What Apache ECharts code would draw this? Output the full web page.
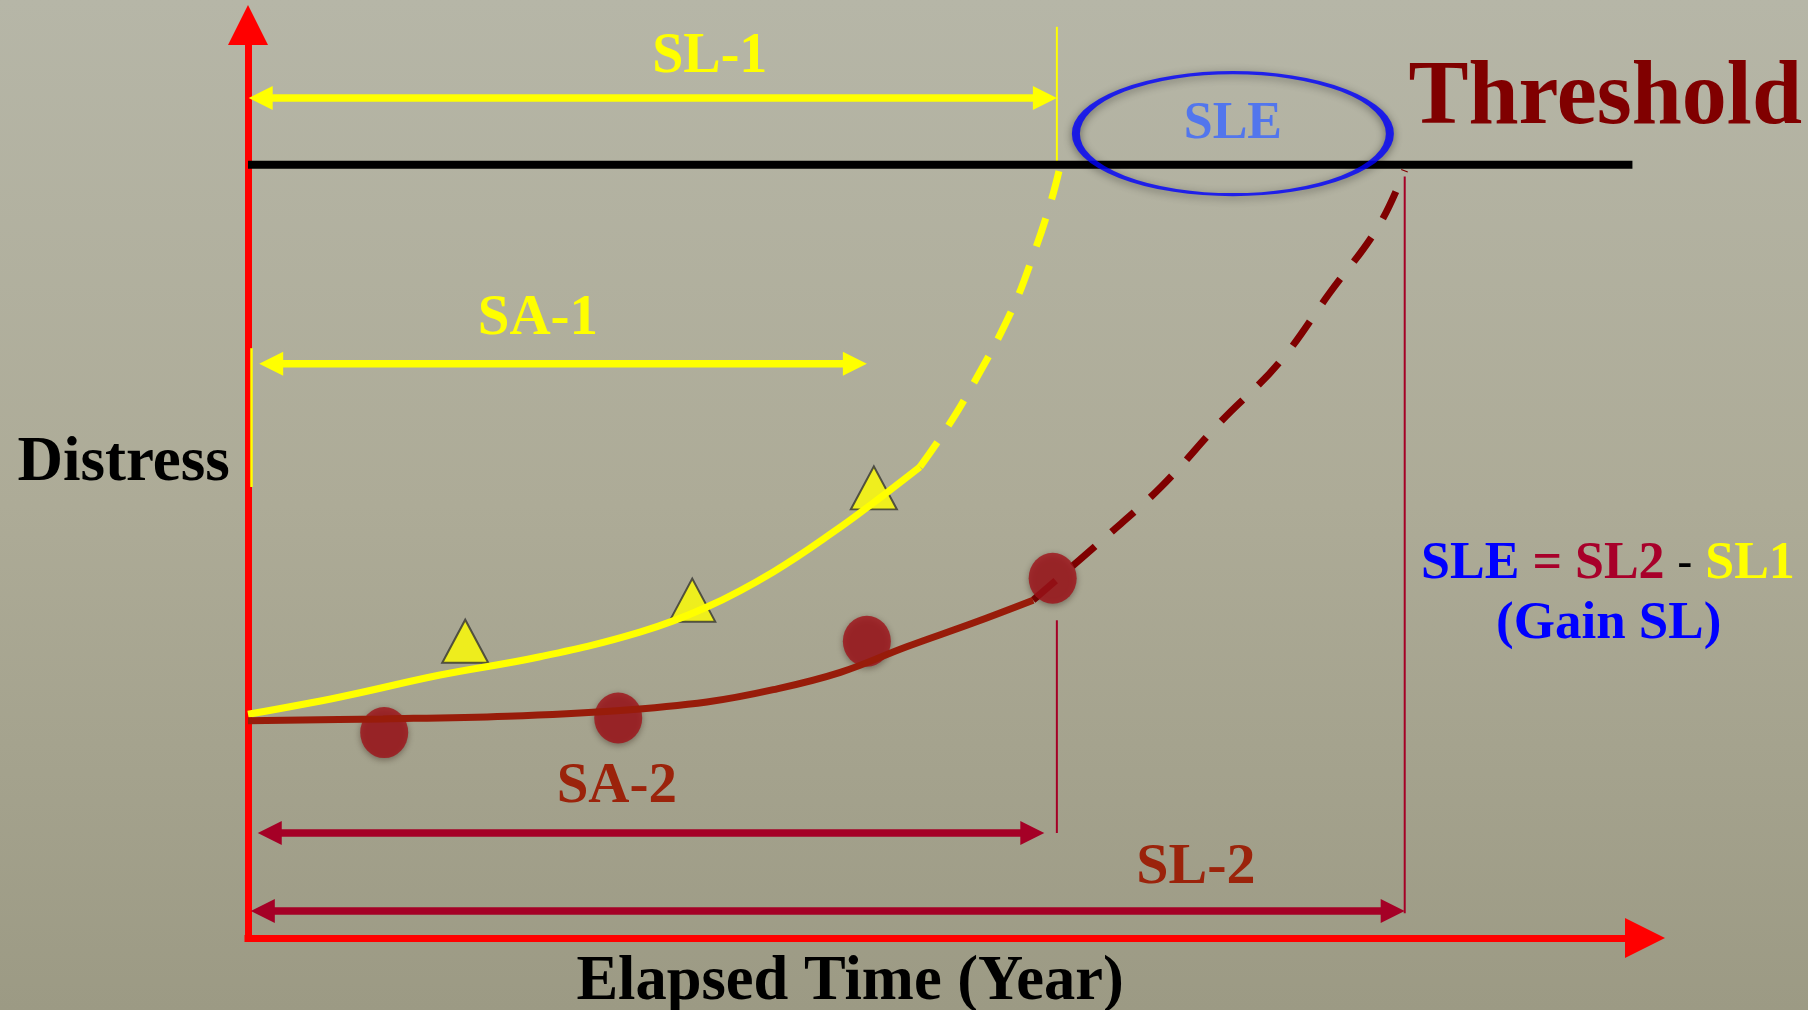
<!DOCTYPE html>
<html>
<head>
<meta charset="utf-8">
<script src="https://cdn.jsdelivr.net/npm/echarts@6/dist/echarts.min.js"></script>
<style>
  html, body { margin: 0; padding: 0; width: 1808px; height: 1010px; overflow: hidden; }
  #chart { width: 1808px; height: 1010px; }
</style>
</head>
<body>
<div id="chart"></div>
<script>
// Distress growth over elapsed time for two sections, with survey ages,
// service lives to the threshold and the gained service life (SLE).
const AGE_MAX = 20;
const DISTRESS_MAX = 100;
const THRESHOLD = 84.7;
const THRESHOLD_END = 19.82;

// Section 1 (yellow): fitted trend over the surveyed period, then projected
const trend1Measured = [[0, 24.5], [1.32, 26.4], [2.75, 28.8], [4.18, 30.8], [5.61, 33.5], [6.57, 36.25], [7.52, 40.1], [8.48, 45.0], [8.95, 47.65], [9.62, 51.6]];
const trend1Projected = [[9.62, 51.6], [9.94, 55.1], [10.31, 59.7], [10.92, 68.5], [11.27, 75.4], [11.50, 80.8], [11.61, 84.0]];
const survey1Age = [3.11, 6.36, 8.96];
const survey1Distress = [32.5, 37.0, 49.3];

// Section 2 (red)
const trend2Measured = [[0, 23.8], [1.93, 24.0], [3.71, 24.3], [5.28, 24.9], [6.57, 25.85], [7.52, 27.2], [8.48, 29.1], [9.43, 31.9], [10.38, 34.5], [11.24, 37.0]];
const trend2Projected = [[11.24, 37.0], [12.23, 43.6], [13.07, 49.4], [13.92, 56.5], [14.76, 63.0], [15.49, 70.7], [16.18, 77.9], [16.56, 84.1]];
const survey2Age = [1.95, 5.30, 8.86, 11.52];
const survey2Distress = [22.5, 24.1, 32.5, 39.4];

// Double-headed span arrows (age from / to, drawn at a distress level)
const spanNames = ['SL-1', 'SA-1', 'SA-2', 'SL-2'];
const spanStart = [0.01, 0.16, 0.14, 0.04];
const spanEnd = [11.58, 8.86, 11.40, 16.56];
const spanLevel = [92.0, 62.9, 11.5, 2.96];

// Thin vertical guide lines
const guideNames = ['SL-1', 'SA-1', 'SA-2', 'SL-2'];
const guideAge = [11.58, 0.05, 11.58, 16.56];
const guideFrom = [84.7, 49.4, 11.5, 2.7];
const guideTo = [99.8, 64.6, 34.8, 83.4];

// Gained service life marker, centred between SL-1 and SL-2
const gainCenter = [14.10, 88.1];

// Text notes anchored in chart units
const noteText = ['SL-1', 'SA-1', 'SA-2', 'SL-2', 'Threshold', 'Distress', 'Elapsed Time (Year)', 'formula', '(Gain SL)'];
const noteAge = [6.61, 4.15, 5.28, 13.57, 19.43, -1.78, 8.62, 19.47, 19.48];
const noteDistress = [96.4, 67.8, 16.5, 7.7, 91.8, 52.0, -4.9, 40.9, 34.4];

const SERIF = "'Liberation Serif', 'Times New Roman', serif";
const font = (size) => `bold ${size}px ${SERIF}`;

const YELLOW = '#ffff00';
const CRIMSON = '#a50026';
const RUST = '#9b230b';
const BLUE = '#0000ff';

const spanColor = { 'SL-1': YELLOW, 'SA-1': YELLOW, 'SA-2': CRIMSON, 'SL-2': CRIMSON };
const guideStyle = {
  'SL-1': { color: YELLOW, width: 2 },
  'SA-1': { color: YELLOW, width: 2.5 },
  'SA-2': { color: CRIMSON, width: 2 },
  'SL-2': { color: CRIMSON, width: 2 }
};
const noteStyle = {
  'SL-1': { color: YELLOW, size: 56 },
  'SA-1': { color: YELLOW, size: 57 },
  'SA-2': { color: RUST, size: 57 },
  'SL-2': { color: RUST, size: 58 },
  'Threshold': { color: '#800000', size: 90 },
  'Distress': { color: '#000000', size: 63 },
  'Elapsed Time (Year)': { color: '#000000', size: 62.5 },
  'formula': { color: BLUE, size: 52 },
  '(Gain SL)': { color: BLUE, size: 53 }
};

const chart = echarts.init(document.getElementById('chart'), null, { renderer: 'canvas' });

const axisCommon = {
  type: 'value',
  axisLine: {
    show: true,
    onZero: false,
    symbol: ['none', 'triangle'],
    symbolSize: [40, 40],
    lineStyle: { color: '#ff0000', width: 7, cap: 'square' }
  },
  axisTick: { show: false },
  axisLabel: { show: false },
  splitLine: { show: false }
};

function renderSpan(params, api) {
  const i = params.dataIndex;
  const a = api.coord([api.value(0), api.value(1)]);
  const b = api.coord([api.value(2), api.value(1)]);
  const color = spanColor[spanNames[i]];
  const L = 24, H = 12;
  return {
    type: 'group',
    children: [
      { type: 'line', shape: { x1: a[0] + L - 2, y1: a[1], x2: b[0] - L + 2, y2: b[1] },
        style: { stroke: color, lineWidth: 7.5 } },
      { type: 'polygon', shape: { points: [[a[0], a[1]], [a[0] + L, a[1] - H], [a[0] + L, a[1] + H]] },
        style: { fill: color } },
      { type: 'polygon', shape: { points: [[b[0], b[1]], [b[0] - L, b[1] - H], [b[0] - L, b[1] + H]] },
        style: { fill: color } }
    ]
  };
}

function renderGuide(params, api) {
  const i = params.dataIndex;
  const a = api.coord([api.value(0), api.value(1)]);
  const b = api.coord([api.value(0), api.value(2)]);
  const st = guideStyle[guideNames[i]];
  return {
    type: 'line',
    shape: { x1: a[0], y1: a[1], x2: b[0], y2: b[1] },
    style: { stroke: st.color, lineWidth: st.width }
  };
}

function renderNote(params, api) {
  const i = params.dataIndex;
  const p = api.coord([api.value(0), api.value(1)]);
  const name = noteText[i];
  const st = noteStyle[name];
  if (name === 'formula') {
    return {
      type: 'text', x: p[0], y: p[1],
      style: {
        text: '{b|SLE} {r|= SL2} {k|-} {y|SL1}',
        font: font(st.size), fill: BLUE,
        align: 'center', verticalAlign: 'middle',
        rich: {
          b: { fill: BLUE, font: font(st.size) },
          r: { fill: '#a8002a', font: font(st.size) },
          k: { fill: '#000000', font: font(st.size - 8) },
          y: { fill: YELLOW, font: font(st.size) }
        }
      }
    };
  }
  return {
    type: 'text', x: p[0], y: p[1],
    style: { text: name, fill: st.color, font: font(st.size), align: 'center', verticalAlign: 'middle' }
  };
}

const option = {
  animation: false,
  backgroundColor: {
    type: 'linear', x: 0, y: 0, x2: 0, y2: 1,
    colorStops: [
      { offset: 0, color: '#b6b6a7' },
      { offset: 0.5, color: '#adab97' },
      { offset: 1, color: '#9c9a84' }
    ]
  },
  grid: { left: 248, right: 163, top: 25, bottom: 72 },
  xAxis: Object.assign({}, axisCommon, { min: 0, max: AGE_MAX }),
  yAxis: Object.assign({}, axisCommon, { min: 0, max: DISTRESS_MAX }),
  series: [
    {
      name: 'Threshold', type: 'line', z: 3, silent: true, showSymbol: false,
      data: [[0, THRESHOLD], [THRESHOLD_END, THRESHOLD]],
      lineStyle: { color: '#000000', width: 8 }
    },
    {
      name: 'Guides', type: 'custom', z: 3, silent: true,
      data: guideAge.map((x, i) => [x, guideFrom[i], guideTo[i]]),
      encode: { x: 0, y: [1, 2] },
      renderItem: renderGuide
    },
    {
      name: 'Spans', type: 'custom', z: 4, silent: true,
      data: spanStart.map((x, i) => [x, spanLevel[i], spanEnd[i]]),
      encode: { x: [0, 2], y: 1 },
      renderItem: renderSpan
    },
    {
      name: 'Section 1 projected', type: 'line', z: 4, silent: true, showSymbol: false, smooth: 0.4,
      data: trend1Projected,
      lineStyle: { color: YELLOW, width: 7, type: [30, 20] }
    },
    {
      name: 'Section 2 projected', type: 'line', z: 4, silent: true, showSymbol: false, smooth: 0.4,
      data: trend2Projected,
      lineStyle: { color: '#800000', width: 7, type: [30, 22] }
    },
    {
      name: 'Section 2 surveys', type: 'scatter', z: 5, silent: true,
      data: survey2Age.map((x, i) => [x, survey2Distress[i]]),
      symbol: 'circle', symbolSize: [48, 51],
      itemStyle: { color: '#a01119', shadowBlur: 6, shadowOffsetY: 2, shadowColor: 'rgba(40,20,10,0.5)' }
    },
    {
      name: 'Section 1 surveys', type: 'scatter', z: 5, silent: true,
      data: survey1Age.map((x, i) => [x, survey1Distress[i]]),
      symbol: 'triangle', symbolSize: [46, 43],
      itemStyle: { color: YELLOW, borderColor: '#333333', borderWidth: 2 }
    },
    {
      name: 'Section 1 trend', type: 'line', z: 6, silent: true, showSymbol: false, smooth: 0.4,
      data: trend1Measured,
      lineStyle: { color: YELLOW, width: 7 }
    },
    {
      name: 'Section 2 trend', type: 'line', z: 6, silent: true, showSymbol: false, smooth: 0.4,
      data: trend2Measured,
      lineStyle: { color: '#981c0a', width: 7 }
    },
    {
      name: 'SLE', type: 'scatter', z: 7, silent: true,
      data: [gainCenter],
      symbol: 'circle', symbolSize: [314, 122],
      itemStyle: {
        color: 'rgba(0,0,0,0)', borderColor: BLUE, borderWidth: 5,
        shadowBlur: 8, shadowOffsetY: 2, shadowColor: 'rgba(0,0,0,0.55)'
      },
      label: {
        show: true, position: 'inside', formatter: 'SLE', offset: [0, -9],
        color: '#3a66ff', fontFamily: SERIF, fontWeight: 'bold', fontSize: 52
      }
    },
    {
      name: 'Notes', type: 'custom', z: 8, silent: true,
      data: noteAge.map((x, i) => [x, noteDistress[i]]),
      encode: { x: 0, y: 1 },
      renderItem: renderNote
    }
  ]
};

chart.setOption(option);
</script>
</body>
</html>
